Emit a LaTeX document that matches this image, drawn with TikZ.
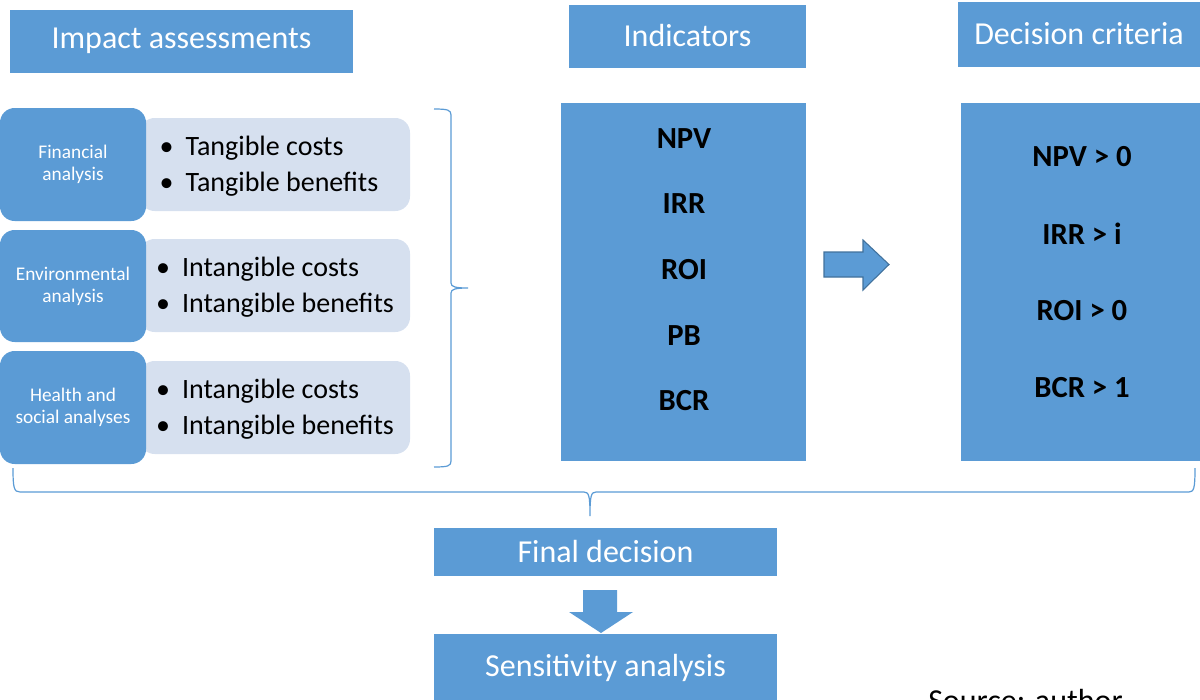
\documentclass[tikz,border=0pt]{standalone}
\usepackage{fontspec}
\setmainfont{Carlito}
\usepackage{tikz}
\usetikzlibrary{positioning}

\definecolor{boxblue}{HTML}{5B9BD5}
\definecolor{itemblue}{HTML}{D6E0EF}
\definecolor{edgeblue}{HTML}{41719C}

\tikzset{head/.style = {fill=boxblue,text=white,inner sep=0pt,font=\fontsize{24}{28}\selectfont}}
\tikzset{area/.style = {fill=boxblue,text=white,rounded corners=11pt,inner sep=0pt,align=center,
                        minimum width=109.5pt,font=\fontsize{14.5}{16.5}\selectfont}}
\tikzset{items/.style = {fill=itemblue,rounded corners=11pt,minimum width=202.5pt,minimum height=69.75pt}}
\tikzset{list/.style = {align=left,inner sep=0pt,font=\fontsize{21}{27}\selectfont}}
\tikzset{column/.style = {fill=boxblue,minimum height=268.5pt,inner sep=0pt}}
\tikzset{crit/.style = {inner sep=0pt,font=\fontsize{23}{27}\selectfont\bfseries}}
\tikzset{brace/.style = {draw=boxblue,line width=0.9pt}}

\newcommand{\bul}{\textbullet\hspace{9pt}}

\begin{document}
\begin{tikzpicture}[x=0.75pt,y=-0.75pt]
    \useasboundingbox (0,0) rectangle (1200,700);

    % column titles
    \node [head,minimum width=257.25pt,minimum height=47.25pt] (imp) at (181.5,41) {Impact assessments};
    \node [head,minimum width=177.75pt,minimum height=47.25pt] (ind) at (687.5,36) {Indicators};
    \node [head,minimum width=181.5pt,minimum height=48.75pt] (dec) at (1079,34) {Decision criteria};

    % impact assessments
    \node [items] (fincost) at (275,164.5) {};
    \node [items] (envcost) at (275,285.5) {};
    \node [items] (heacost) at (275,407.5) {};
    \node [area,minimum height=84.75pt] (fin) at (73,164.5) {Financial\\analysis};
    \node [area,minimum height=84pt] (env) at (73,286) {Environmental\\analysis};
    \node [area,minimum height=84.75pt] (hea) at (73,407.5) {Health and\\social analyses};
    \node [list] (finlist) at (269,166.5) {\bul Tangible costs\\\bul Tangible benefits};
    \node [list] (envlist) at (275,287.5) {\bul Intangible costs\\\bul Intangible benefits};
    \node [list] (healist) at (275,409.5) {\bul Intangible costs\\\bul Intangible benefits};

    % right brace after the assessments
    \draw [brace] (434,109) .. controls (448,109) and (451,110) .. (451,115) -- (451,283)
        .. controls (451,287) and (456,288) .. (468,288) .. controls (456,288) and (451,289) .. (451,293)
        -- (451,461) .. controls (451,466) and (448,467) .. (434,467);

    % indicators
    \node [column,minimum width=183.75pt] (indbox) at (683.5,282) {};
    \foreach \t/\y in {NPV/139,IRR/204,ROI/270,PB/336,BCR/401}
        \node [crit] (i\t) at (684,\y) {\t};

    \fill [boxblue,draw=edgeblue,line width=0.8pt] (824,252) -- (863,252) -- (863,240) -- (889,264.5)
        -- (863,290) -- (863,277) -- (824,277) -- cycle;

    % decision criteria
    \node [column,minimum width=179.25pt] (decbox) at (1080.5,282) {};
    \foreach \t/\y [count=\k] in {NPV > 0/157,IRR > i/234,ROI > 0/311,BCR > 1/388}
        \node [crit] (c\k) at (1082,\y) {\t};

    % brace over everything
    \draw [brace] (13,468) .. controls (13,488) and (14,492) .. (20,492) -- (584,492)
        .. controls (589,492) and (590,496) .. (590,516) .. controls (590,496) and (591,492) .. (596,492)
        -- (1189,492) .. controls (1194,492) and (1195,488) .. (1195,468);

    % decision
    \node [head,minimum width=257.25pt,minimum height=36pt] (final) at (605.5,552) {Final decision};
    \node [head,minimum width=257.25pt,minimum height=51pt] (sens) at (605.5,668) {Sensitivity analysis};
    \fill [boxblue] (583,590) -- (617,590) -- (617,612) -- (633,612) -- (601,633) -- (569,612)
        -- (583,612) -- cycle;

    \node [anchor=base west,inner sep=0pt,font=\fontsize{24}{28}\selectfont] (src) at (928,711) {Source: author};
\end{tikzpicture}
\end{document}
